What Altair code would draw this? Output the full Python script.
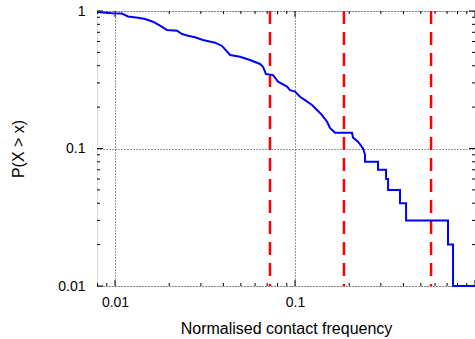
import altair as alt
import pandas as pd

# CCDF curve (x: normalised contact frequency, y: P(X > x))
curve_x = [0.00794, 0.00962, 0.01094, 0.0118, 0.01343, 0.01468, 0.01626, 0.01778,
           0.01945, 0.0221, 0.02357, 0.02545, 0.0278, 0.0308, 0.036, 0.0393, 0.0436,
           0.0495, 0.0562, 0.0639, 0.0664, 0.069, 0.0755, 0.0805, 0.0903, 0.0938, 0.1,
           0.1066, 0.1137, 0.1243, 0.1325, 0.1413, 0.1507, 0.1564, 0.1668, 0.2073,
           0.2101, 0.2239, 0.2388, 0.2449, 0.2449, 0.2891, 0.2891, 0.3205, 0.3205,
           0.3289, 0.3289, 0.3831, 0.3831, 0.414, 0.414, 0.708, 0.708, 0.755, 0.755, 1.0]
curve_y = [0.983, 0.962, 0.959, 0.912, 0.894, 0.875, 0.836, 0.782,
           0.727, 0.719, 0.68, 0.661, 0.644, 0.615, 0.588, 0.557, 0.479,
           0.465, 0.44, 0.412, 0.393, 0.348, 0.342, 0.306, 0.282, 0.266, 0.259,
           0.238, 0.225, 0.207, 0.1905, 0.175, 0.1566, 0.141, 0.13, 0.13,
           0.12, 0.112, 0.1, 0.09, 0.08, 0.08, 0.07, 0.07, 0.06,
           0.06, 0.05, 0.05, 0.04, 0.04, 0.03, 0.03, 0.02, 0.02, 0.01, 0.01]

# red dashed thresholds
threshold_x = [0.0726, 0.187, 0.57]

# axis tick values
major_ticks = [0.01, 0.1, 1.0]
x_minor = [0.008, 0.009] + [m * 0.01 for m in range(2, 10)] + [m * 0.1 for m in range(2, 10)]
y_minor = [m * 0.01 for m in range(2, 10)] + [m * 0.1 for m in range(2, 10)]

W, H = 378, 275
FONT = "Liberation Sans"

curve = pd.DataFrame({"x": curve_x, "y": curve_y, "i": range(len(curve_x))})
thr = pd.DataFrame({"x": threshold_x})
xmaj = pd.DataFrame({"v": major_ticks})
xmin = pd.DataFrame({"v": x_minor})
ymaj = pd.DataFrame({"v": major_ticks})
ymin = pd.DataFrame({"v": y_minor})

xscale = alt.Scale(type="log", domain=[0.00794, 1.0], nice=False)
yscale = alt.Scale(type="log", domain=[0.01, 1.0], nice=False)

xaxis = alt.Axis(values=[0.01, 0.1], format="~g", grid=True, gridDash=[1, 2],
                 gridColor="#333", gridWidth=1, ticks=False, domain=False,
                 labelFont=FONT, labelFontSize=14, labelColor="black", labelPadding=9,
                 title="Normalised contact frequency", titleFont=FONT, titleFontSize=16,
                 titleFontWeight="normal", titleColor="black", titleY=47,
                 titleBaseline="alphabetic")
yaxis = alt.Axis(values=major_ticks, format="~g", grid=True, gridDash=[1, 2],
                 gridColor="#333", gridWidth=1, ticks=False, domain=False,
                 labelFont=FONT, labelFontSize=14, labelColor="black", labelPadding=12,
                 title="P(X > x)", titleFont=FONT, titleFontSize=16,
                 titleFontWeight="normal", titleColor="black", titleX=-79, titleY=H / 2,
                 titleBaseline="middle", titleAlign="center")

line = alt.Chart(curve).mark_line(color="#0000ff", strokeWidth=2, clip=False).encode(
    x=alt.X("x:Q", scale=xscale, axis=xaxis),
    y=alt.Y("y:Q", scale=yscale, axis=yaxis),
    order="i:Q",
)

red = alt.Chart(thr).mark_rule(color="#ff0000", strokeWidth=2.5, strokeDash=[13, 8]).encode(
    x=alt.X("x:Q", scale=xscale), y=alt.value(0), y2=alt.value(H)
)

def xticks(df, length):
    b = alt.Chart(df).mark_rule(color="black", strokeWidth=1).encode(
        x=alt.X("v:Q", scale=xscale), y=alt.value(H), y2=alt.value(H - length))
    t = alt.Chart(df).mark_rule(color="black", strokeWidth=1).encode(
        x=alt.X("v:Q", scale=xscale), y=alt.value(0), y2=alt.value(length))
    return b + t

def yticks(df, length):
    l = alt.Chart(df).mark_rule(color="black", strokeWidth=1).encode(
        y=alt.Y("v:Q", scale=yscale), x=alt.value(0), x2=alt.value(length))
    r = alt.Chart(df).mark_rule(color="black", strokeWidth=1).encode(
        y=alt.Y("v:Q", scale=yscale), x=alt.value(W), x2=alt.value(W - length))
    return l + r

chart = alt.layer(
    xticks(xmaj, 6), xticks(xmin, 3), yticks(ymaj, 6), yticks(ymin, 3),
    red, line,
).properties(
    width=W, height=H,
    autosize=alt.AutoSizeParams(type="none"),
    padding={"left": 97, "top": 11, "right": 0, "bottom": 53},
).configure_view(stroke="black", strokeWidth=1.2).configure(background="white")

chart.save("out.html", embed_options={"renderer": "svg", "actions": False})
